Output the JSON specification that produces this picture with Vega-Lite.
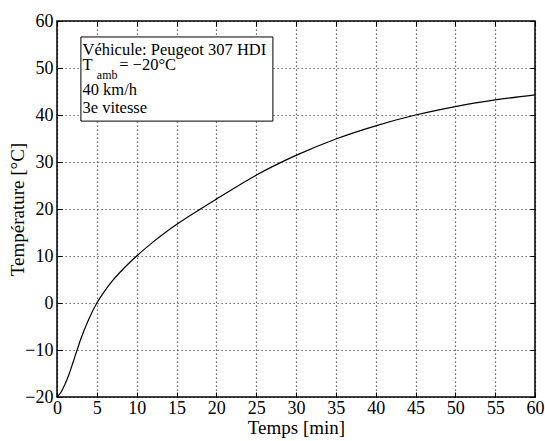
{
  "$schema": "https://vega.github.io/schema/vega-lite/v6.json",
  "width": 478,
  "height": 376,
  "autosize": {"type": "none"},
  "padding": {"left": 57, "top": 21, "right": 10, "bottom": 44},
  "config": {
    "view": {"stroke": "#000", "strokeWidth": 1.5},
    "font": "Liberation Serif",
    "axis": {
      "labelFont": "Liberation Serif",
      "titleFont": "Liberation Serif",
      "labelColor": "#000",
      "titleColor": "#000",
      "tickColor": "#000",
      "labelFontSize": 18,
      "titleFontSize": 19,
      "titleFontWeight": "normal",
      "domain": false
    }
  },
  "layer": [
    {
      "data": {
        "values": [
          {"t": 0, "T": -20},
          {"t": 0.5, "T": -19.0},
          {"t": 1, "T": -17.3},
          {"t": 1.5, "T": -15.2},
          {"t": 2, "T": -12.7},
          {"t": 2.5, "T": -10.1},
          {"t": 3, "T": -7.6},
          {"t": 4, "T": -3.4},
          {"t": 5, "T": 0},
          {"t": 6, "T": 2.6},
          {"t": 7, "T": 4.8},
          {"t": 8, "T": 6.7},
          {"t": 10, "T": 10.0},
          {"t": 12, "T": 12.9},
          {"t": 15, "T": 16.7},
          {"t": 18, "T": 20.0},
          {"t": 20, "T": 22.1},
          {"t": 25, "T": 27.2},
          {"t": 30, "T": 31.4},
          {"t": 35, "T": 34.9},
          {"t": 40, "T": 37.7},
          {"t": 45, "T": 40.0},
          {"t": 50, "T": 41.8},
          {"t": 55, "T": 43.2},
          {"t": 60, "T": 44.3}
        ]
      },
      "mark": {"type": "line", "color": "#000", "strokeWidth": 1.2, "interpolate": "monotone"},
      "encoding": {
        "x": {
          "field": "t", "type": "quantitative",
          "scale": {"domain": [0, 60], "nice": false},
          "axis": {
            "orient": "bottom", "title": "Temps [min]",
            "values": [0, 5, 10, 15, 20, 25, 30, 35, 40, 45, 50, 55, 60],
            "grid": true, "gridColor": "#000", "gridOpacity": 0.75, "gridWidth": 1.2, "gridDash": [1.2, 2.8],
            "ticks": true, "tickSize": -5, "labelPadding": 7, "titlePadding": 1,
            "labelFlush": false
          }
        },
        "y": {
          "field": "T", "type": "quantitative",
          "scale": {"domain": [-20, 60], "nice": false},
          "axis": {
            "orient": "left", "title": "Température [°C]",
            "values": [-20, -10, 0, 10, 20, 30, 40, 50, 60],
            "grid": true, "gridColor": "#000", "gridOpacity": 0.75, "gridWidth": 1.2, "gridDash": [1.2, 2.8],
            "ticks": true, "tickSize": -5, "labelPadding": 9, "titlePadding": -3
          }
        }
      }
    },
    {
      "data": {"values": [{"x1": 3.0, "x2": 27.1, "y1": 56.6, "y2": 38.7}]},
      "mark": {"type": "rect", "fill": "white", "stroke": "#000", "strokeWidth": 1},
      "encoding": {
        "x": {
          "field": "x1", "type": "quantitative",
          "axis": {"orient": "top", "title": null, "labels": false, "grid": false,
                   "values": [0, 5, 10, 15, 20, 25, 30, 35, 40, 45, 50, 55, 60], "ticks": true, "tickSize": -5}
        },
        "x2": {"field": "x2"},
        "y": {
          "field": "y1", "type": "quantitative",
          "axis": {"orient": "right", "title": null, "labels": false, "grid": false,
                   "values": [-20, -10, 0, 10, 20, 30, 40, 50, 60], "ticks": true, "tickSize": -5}
        },
        "y2": {"field": "y2"}
      }
    },
    {
      "data": {
        "values": [
          {"x": 3.2, "y": 52.77, "label": "Véhicule: Peugeot 307 HDI"},
          {"x": 3.2, "y": 49.57, "label": "T"},
          {"x": 7.8, "y": 49.57, "label": "= −20°C"},
          {"x": 3.2, "y": 44.26, "label": "40 km/h"},
          {"x": 3.2, "y": 40.43, "label": "3e vitesse"}
        ]
      },
      "mark": {"type": "text", "font": "Liberation Serif", "fontSize": 16.5, "align": "left", "baseline": "alphabetic", "color": "#000"},
      "encoding": {
        "x": {"field": "x", "type": "quantitative", "axis": null},
        "y": {"field": "y", "type": "quantitative", "axis": null},
        "text": {"field": "label"}
      }
    },
    {
      "data": {"values": [{"x": 5.0, "y": 47.7, "label": "amb"}]},
      "mark": {"type": "text", "font": "Liberation Serif", "fontSize": 12, "align": "left", "baseline": "alphabetic", "color": "#000"},
      "encoding": {
        "x": {"field": "x", "type": "quantitative", "axis": null},
        "y": {"field": "y", "type": "quantitative", "axis": null},
        "text": {"field": "label"}
      }
    }
  ],
  "resolve": {"axis": {"x": "independent", "y": "independent"}}
}
